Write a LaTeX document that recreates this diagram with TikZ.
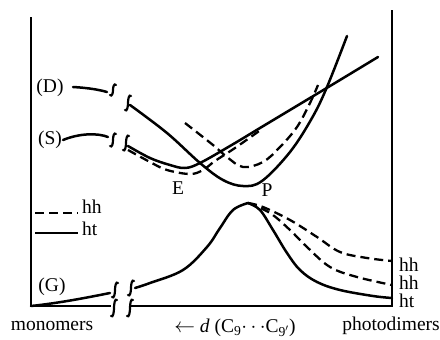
\documentclass[tikz,border=0pt]{standalone}
\usepackage{fontspec}
\setmainfont{Liberation Serif}
\begin{document}
\begin{tikzpicture}[x=1pt,y=-1pt,
  axis/.style={line width=2.8pt},
  curve/.style={line width=2.5pt, line cap=round, line join=round},
  dcurve/.style={line width=2.3pt, dash pattern=on 9pt off 5pt},
  brk/.style={line width=2.2pt, line cap=round},
  lbl/.style={font=\fontsize{19.5}{21}\selectfont, inner sep=0pt}]
\useasboundingbox (0,0) rectangle (440,340);
\newcommand{\brkmark}[3]{\draw[brk] ({#1+3},{#2-#3+1}) .. controls ({#1+1},{#2-#3-1}) and ({#1},{#2-0.5*#3}) .. ({#1},{#2}) .. controls ({#1},{#2+0.5*#3}) and ({#1-1},{#2+#3+1}) .. ({#1-3},{#2+#3-1});}
% axes
\draw[axis] (31,17) -- (31,306) -- (111,306);
\draw[axis] (131,306) -- (392,306) -- (392,10);
% D curve
\draw[curve] (73,87) .. controls (90,88) and (100,90) .. (107,92);
\brkmark{113}{90}{6}
\brkmark{128}{103}{8}
\draw[curve] plot[smooth, tension=0.6] coordinates {(130,105) (167,133) (200,163) (223,180) (243,186) (262,181) (290,152) (312,118) (327,87) (347,36)};
\draw[dcurve] plot[smooth, tension=0.6] coordinates {(185,123) (213,145) (227,157) (243,167) (263,162) (280,147) (297,127) (310,103) (318,85)};
% S curve
\draw[curve] (63,140) .. controls (80,133) and (98,133) .. (108,137);
\brkmark{113}{140}{7}
\brkmark{126}{143}{8}
\draw[curve] plot[smooth, tension=0.6] coordinates {(128,146) (150,158) (170,165) (185,168) (200,163) (230,146) (260,128) (300,104) (340,80) (378,57)};
\draw[dcurve] plot[smooth, tension=0.6] coordinates {(128,150) (150,162) (167,170) (190,174) (203,170) (215,161) (235,148) (262,129)};
% G curve
\draw[curve] (31,306) .. controls (60,303) and (90,297) .. (110,293);
\brkmark{115}{290}{8}
\brkmark{131}{288}{8}
\brkmark{114}{308}{9}
\brkmark{130}{308}{9}
\draw[curve] plot[smooth, tension=0.6] coordinates {(135,288) (150,283) (183,270) (207,247) (220,228) (233,210) (248,203)};
\draw[curve] plot[smooth, tension=0.6] coordinates {(248,203) (260,210) (273,230) (287,253) (300,270) (317,282) (340,290) (373,296) (392,298)};
\draw[dcurve] plot[smooth, tension=0.6] coordinates {(248,203) (270,213) (290,230) (307,247) (330,267) (357,277) (392,285)};
\draw[dcurve] plot[smooth, tension=0.6] coordinates {(248,203) (263,207) (290,220) (317,237) (340,252) (367,258) (392,261)};
% legend
\draw[dcurve] (35,213) -- (78,213);
\draw[curve, line cap=butt] (35,233) -- (78,233);
\node[lbl, anchor=west] (lhh) at (82,207) {hh};
\node[lbl, anchor=west] (lht) at (82,229) {ht};
% labels
\node[lbl] (D) at (50,88) {(D)};
\node[lbl] (S) at (50,140) {(S)};
\node[lbl] (G) at (52,287) {(G)};
\node[lbl] (E) at (178,188) {E};
\node[lbl] (P) at (267,190) {P};
\node[lbl, anchor=west] (r1) at (399,265) {hh};
\node[lbl, anchor=west] (r2) at (399,283) {hh};
\node[lbl, anchor=west] (r3) at (399,301) {ht};
\node[lbl] (mono) at (52,326) {monomers};
\node[lbl] (photo) at (391,326) {photodimers};
\node[lbl] (dl) at (235,328) {$\leftarrow$ \textit{d} (C\textsubscript{9}$\cdots$C\textsubscript{9$'$})};
\end{tikzpicture}
\end{document}
